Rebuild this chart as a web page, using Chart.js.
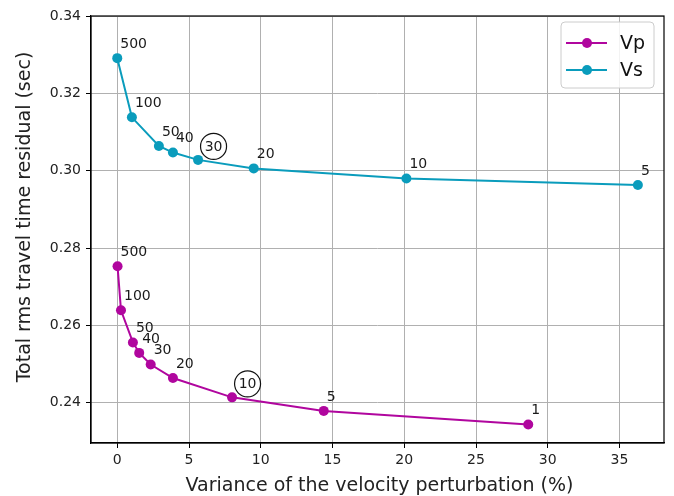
<!DOCTYPE html>
<html>
<head>
<meta charset="utf-8">
<script src="https://cdn.jsdelivr.net/npm/chart.js@4/dist/chart.umd.min.js"></script>
<style>
html,body{margin:0;padding:0;background:#fff;}
#wrap{width:674px;height:496px;position:relative;}
</style>
</head>
<body>
<div id="wrap"><canvas id="c" width="674" height="496"></canvas></div>
<script>
// ---- data ----
const vpVariance = [0.02, 0.26, 1.09, 1.53, 2.33, 3.88, 8.0, 14.39, 28.64];
const vpResidual = [0.2753, 0.2639, 0.2556, 0.2529, 0.2499, 0.2464, 0.2414, 0.2379, 0.2344];
const vpLabels   = ['500', '100', '50', '40', '30', '20', '10', '5', '1'];
const vpCircled  = ['10'];

const vsVariance = [0.0, 1.02, 2.9, 3.88, 5.63, 9.51, 20.15, 36.28];
const vsResidual = [0.3291, 0.3138, 0.3064, 0.3047, 0.3028, 0.3006, 0.2980, 0.2963];
const vsLabels   = ['500', '100', '50', '40', '30', '20', '10', '5'];
const vsCircled  = ['30'];

const xTicks = [0, 5, 10, 15, 20, 25, 30, 35];
const yTicks = [0.24, 0.26, 0.28, 0.30, 0.32, 0.34];
const seriesNames = ['Vp', 'Vs'];

const xTitle = 'Variance of the velocity perturbation (%)';
const yTitle = 'Total rms travel time residual (sec)';

// ---- styles ----
const VP_COLOR = '#b0069e';
const VS_COLOR = '#0a9cbc';
const FONT = "'DejaVu Sans', sans-serif";
const TEXT = '#222';

function pts(xs, ys) { return xs.map((x, i) => ({x: x, y: ys[i]})); }

const annotPlugin = {
  id: 'annot',
  afterDatasetsDraw(chart) {
    const ctx = chart.ctx;
    const sets = [[vpLabels, vpCircled], [vsLabels, vsCircled]];
    ctx.save();
    ctx.font = '14px ' + FONT;
    ctx.fillStyle = '#1a1a1a';
    ctx.textBaseline = 'middle';
    sets.forEach(([labels, circled], di) => {
      const meta = chart.getDatasetMeta(di);
      meta.data.forEach((el, i) => {
        const t = labels[i];
        if (circled.includes(t)) {
          const cx = el.x + 15.5, cy = el.y - 13.5;
          ctx.textAlign = 'center';
          ctx.fillText(t, cx, cy + 0.5);
          ctx.beginPath();
          ctx.arc(cx, cy, 13, 0, Math.PI * 2);
          ctx.strokeStyle = '#111';
          ctx.lineWidth = 1.2;
          ctx.stroke();
        } else {
          ctx.textAlign = 'left';
          ctx.fillText(t, el.x + 3, el.y - 14);
        }
      });
    });
    ctx.restore();
  }
};

const framePlugin = {
  id: 'frame',
  afterDraw(chart) {
    const {ctx, chartArea: a} = chart;
    ctx.save();
    ctx.strokeStyle = '#000';
    ctx.lineWidth = 1.2;
    ctx.strokeRect(a.left, a.top, a.right - a.left, a.bottom - a.top);
    // axis titles
    ctx.fillStyle = TEXT;
    ctx.font = '19px ' + FONT;
    ctx.textAlign = 'center';
    ctx.textBaseline = 'middle';
    ctx.fillText(xTitle, (a.left + a.right) / 2 + 2, 486);
    ctx.save();
    ctx.translate(25, 217);
    ctx.rotate(-Math.PI / 2);
    ctx.fillText(yTitle, 0, 0);
    ctx.restore();
    // legend
    const bx = 561, by = 22, bw = 93, bh = 66, r = 4;
    ctx.beginPath();
    ctx.moveTo(bx + r, by);
    ctx.arcTo(bx + bw, by, bx + bw, by + bh, r);
    ctx.arcTo(bx + bw, by + bh, bx, by + bh, r);
    ctx.arcTo(bx, by + bh, bx, by, r);
    ctx.arcTo(bx, by, bx + bw, by, r);
    ctx.closePath();
    ctx.fillStyle = 'rgba(255,255,255,0.85)';
    ctx.fill();
    ctx.strokeStyle = '#cccccc';
    ctx.lineWidth = 1;
    ctx.stroke();
    const cols = [VP_COLOR, VS_COLOR];
    ctx.font = '19px ' + FONT;
    ctx.textBaseline = 'middle';
    ctx.textAlign = 'left';
    seriesNames.forEach((n, i) => {
      const y = 43 + i * 27;
      ctx.strokeStyle = cols[i];
      ctx.lineWidth = 2;
      ctx.beginPath(); ctx.moveTo(566, y); ctx.lineTo(607, y); ctx.stroke();
      ctx.fillStyle = cols[i];
      ctx.beginPath(); ctx.arc(587, y, 5, 0, Math.PI * 2); ctx.fill();
      ctx.fillStyle = '#111';
      ctx.fillText(n, 620, y + 1);
    });
    ctx.restore();
  }
};

new Chart(document.getElementById('c'), {
  type: 'scatter',
  data: {
    datasets: [
      {label: seriesNames[0], data: pts(vpVariance, vpResidual), showLine: true,
       borderColor: VP_COLOR, backgroundColor: VP_COLOR, borderWidth: 2,
       pointRadius: 5, pointHoverRadius: 5, pointBorderWidth: 0},
      {label: seriesNames[1], data: pts(vsVariance, vsResidual), showLine: true,
       borderColor: VS_COLOR, backgroundColor: VS_COLOR, borderWidth: 2,
       pointRadius: 5, pointHoverRadius: 5, pointBorderWidth: 0}
    ]
  },
  options: {
    responsive: false,
    animation: false,
    events: [],
    layout: {padding: {left: 0, right: 10, top: 16, bottom: 0}},
    plugins: {legend: {display: false}, tooltip: {enabled: false}},
    scales: {
      x: {
        type: 'linear', min: -1.83, max: 38.1,
        afterBuildTicks(s) { s.ticks = xTicks.map(v => ({value: v})); },
        afterFit(s) { s.height = 53; },
        grid: {color: '#b0b0b0', lineWidth: 1, tickLength: 5, tickColor: '#000', drawTicks: true},
        border: {display: true, color: '#000', width: 1.2},
        ticks: {color: TEXT, font: {family: FONT, size: 14}, padding: 4, maxRotation: 0,
                callback: v => String(v)},
        title: {display: false}
      },
      y: {
        type: 'linear', min: 0.2296, max: 0.34,
        afterBuildTicks(s) { s.ticks = yTicks.map(v => ({value: v})); },
        afterFit(s) { s.width = 91; },
        grid: {color: '#b0b0b0', lineWidth: 1, tickLength: 5, tickColor: '#000', drawTicks: true},
        border: {display: true, color: '#000', width: 1.2},
        ticks: {color: TEXT, font: {family: FONT, size: 14}, padding: 5,
                callback: v => v.toFixed(2)},
        title: {display: false}
      }
    }
  },
  plugins: [annotPlugin, framePlugin]
});
</script>
</body>
</html>
